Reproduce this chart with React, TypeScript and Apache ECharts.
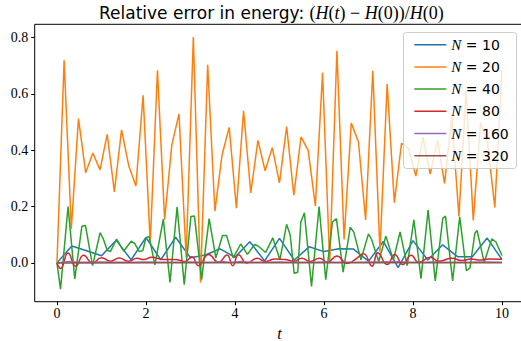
import React, { useEffect, useRef } from "react";
import * as echarts from "echarts";

// ---- data ----
const N_VALUES = [10, 20, 40, 80, 160, 320];
const COLORS = ["#1f77b4", "#ff7f0e", "#2ca02c", "#d62728", "#9467bd", "#8c564b"];

const X_TICKS = [0, 2, 4, 6, 8, 10];
const Y_TICKS = [0, 0.2, 0.4, 0.6, 0.8];

// N = 10 : sampled every 1/3
const N10_STEP = 1 / 3;
const N10_VALUES = [0, 0.06, 0.043, 0.025, 0.08, 0.011, 0.09, 0.011, 0.091, 0.018, 0.028, 0.05, 0.02, 0.075, 0.007, 0.087,
  0.01, 0.057, 0.04, 0.05, 0.049, 0.006, 0.076, -0.017, 0.079, 0.01, 0.064, 0.022, 0.022, 0.088, 0.012];

// N = 20 : sampled every 10/62
const N20_STEP = 10 / 62;
const N20_VALUES = [0, 0.719, 0.121, 0.512, 0.32, 0.39, 0.33, 0.456, 0.252, 0.472, 0.345, 0.273, 0.595, 0.07, 0.684,
  0.153, 0.418, 0.529, 0.02, 0.802, -0.07, 0.703, 0.184, 0.383, 0.481, 0.194, 0.54, 0.248, 0.435, 0.327, 0.409, 0.284,
  0.484, 0.24, 0.447, 0.399, 0.202, 0.675, 0.0, 0.753, 0.083, 0.496, 0.43, 0.152, 0.682, 0.04, 0.635, 0.214, 0.424,
  0.406, 0.308, 0.446, 0.315, 0.436, 0.282, 0.519, 0.165, 0.61, 0.151, 0.497, 0.424, 0.197, 0.684];

// N = 40 : vertices (t, value)
const N40_T = [0, 0.08, 0.25, 0.4, 0.56, 0.64, 0.8, 0.97, 1.04, 1.13, 1.2, 1.34, 1.5, 1.67, 1.75, 1.85, 1.93, 2.0, 2.07,
  2.2, 2.39, 2.54, 2.7, 2.86, 3.01, 3.09, 3.25, 3.42, 3.57, 3.72, 3.81, 3.96, 4.13, 4.28, 4.44, 4.52, 4.69, 4.85, 5.01,
  5.16, 5.24, 5.33, 5.41, 5.48, 5.56, 5.72, 5.89, 6.04, 6.19, 6.28, 6.43, 6.59, 6.67, 6.83, 7.0, 7.07, 7.23, 7.39, 7.56,
  7.71, 7.87, 8.02, 8.18, 8.34, 8.5, 8.67, 8.73, 8.89, 9.05, 9.2, 9.28, 9.39, 9.44, 9.6, 9.77, 9.86, 10.0];
const N40_VALUES = [0, -0.093, 0.2, -0.057, 0.13, 0.133, -0.01, 0.107, 0.086, 0.045, 0.04, 0.084, 0.042, 0.077, 0.068,
  0.04, 0.044, 0.089, 0.094, -0.007, 0.155, -0.069, 0.198, -0.077, 0.165, 0.166, -0.06, 0.157, 0.018, 0.097, 0.097,
  0.018, 0.067, 0.03, 0.065, 0.06, 0.037, 0.089, 0.011, 0.137, 0.1, -0.037, -0.033, 0.145, 0.178, -0.084, 0.2, -0.06,
  0.145, 0.157, -0.033, 0.127, 0.109, 0.011, 0.103, 0.083, 0.005, 0.095, 0.01, 0.11, -0.01, 0.153, -0.056, 0.187,
  -0.064, 0.158, 0.166, -0.064, 0.163, -0.028, -0.018, 0.105, 0.115, 0.002, 0.085, 0.075, 0.026];

// N = 80 : vertices (t, value)
const N80_T = [0, 0.08, 0.25, 0.42, 0.6, 0.8, 1.0, 1.2, 1.4, 1.6, 1.8, 1.95, 2.13, 2.4, 2.65, 2.88, 3.03, 3.18, 3.41,
  3.63, 3.82, 3.95, 4.08, 4.27, 4.5, 4.68, 4.9, 5.13, 5.32, 5.5, 5.69, 5.9, 6.08, 6.29, 6.52, 6.7, 6.89, 7.08, 7.21,
  7.42, 7.59, 7.77, 7.96, 8.13, 8.39, 8.58, 8.88, 9.1, 9.3, 9.5, 9.7, 10.0];
const N80_VALUES = [0, -0.02, 0.035, -0.012, 0.027, 0.0, 0.018, 0.006, 0.017, 0.006, 0.016, 0.012, 0.02, 0.012, 0.012,
  0.005, 0.022, -0.01, 0.03, 0.002, 0.028, -0.01, 0.029, 0.0, 0.016, 0.005, 0.014, 0.012, 0.006, 0.016, 0.005, 0.016,
  0.003, 0.024, -0.002, 0.012, 0.032, -0.012, 0.036, -0.006, 0.03, -0.006, 0.027, 0.002, 0.02, 0.006, 0.016, 0.008,
  0.014, 0.01, 0.014, 0.013];

// N = 160 : vertices (t, value)
const N160_T = [0, 0.15, 0.3, 0.5, 1.0, 1.5, 2.0, 2.5, 3.0, 3.5, 3.7, 3.9, 4.15, 4.4, 5.0, 5.5, 6.0, 6.5, 7.0, 7.6, 8.0,
  8.5, 9.0, 9.5, 10.0];
const N160_VALUES = [0, 0.002, 0.005, 0.002, 0.003, 0.002, 0.003, 0.002, 0.003, 0.002, 0.005, 0.002, 0.005, 0.002,
  0.003, 0.002, 0.003, 0.002, 0.003, 0.004, 0.002, 0.003, 0.002, 0.003, 0.002];

// N = 320 : vertices (t, value)
const N320_T = [0, 2.5, 5.0, 7.5, 10.0];
const N320_VALUES = [0, 0.0005, 0.0005, 0.0005, 0.0005];

const X_MIN = -0.5;
const X_MAX = 10.5;
const Y_MIN = -0.1378;
const Y_MAX = 0.8468;

const SERIF = "'Liberation Serif', 'DejaVu Serif', serif";
const SANS = "'DejaVu Sans', sans-serif";

function gridSeries(step: number, values: number[]) {
  return values.map((v, i) => [i * step, v]);
}
function pairSeries(ts: number[], values: number[]) {
  return ts.map((t, i) => [t, values[i]]);
}

export default function App() {
  const ref = useRef<HTMLDivElement>(null);
  useEffect(() => {
    if (!ref.current) return;
    const chart = echarts.init(ref.current, null, { renderer: "svg" });
    const datasets = [
      gridSeries(N10_STEP, N10_VALUES),
      gridSeries(N20_STEP, N20_VALUES),
      pairSeries(N40_T, N40_VALUES),
      pairSeries(N80_T, N80_VALUES),
      pairSeries(N160_T, N160_VALUES),
      pairSeries(N320_T, N320_VALUES),
    ];
    const smoothFlags = [false, false, false, 0.5, 0.5, false];
    chart.setOption({
      animation: false,
      backgroundColor: "#ffffff",
      title: {
        text:
          "Relative error in energy: {m|(}{i|H}{m|(}{i|t}{m|) − }{i|H}{m|(0))/}{i|H}{m|(0)}",
        left: 99,
        top: 4,
        padding: 0,
        textStyle: {
          fontFamily: SANS,
          fontSize: 17,
          fontWeight: "normal",
          color: "#000",
          rich: {
            m: { fontFamily: SERIF, fontSize: 18, color: "#000" },
            i: { fontFamily: SERIF, fontStyle: "italic", fontSize: 18, color: "#000" },
          },
        },
      },
      graphic: [
        {
          type: "rect",
          z: 50,
          silent: true,
          shape: { x: 403.5, y: 32.5, width: 113, height: 136, r: 3 },
          style: { fill: "rgba(255,255,255,0.8)", stroke: "#cccccc", lineWidth: 1 },
        },
      ],
      legend: {
        right: 4.3,
        top: 32.7,
        z: 60,
        orient: "vertical",
        icon: "path://M0 0H32V1.5H0Z",
        itemWidth: 32,
        itemHeight: 16,
        itemGap: 6.2,
        itemTextGap: 11.6,
        padding: [4, 8, 5, 6],
        data: N_VALUES.map((n) => `N = ${n}`),
        formatter: (name: string) => `{i|N}{r|${name.slice(1)}}`,
        textStyle: {
          fontSize: 14,
          lineHeight: 16,
          color: "#000",
          rich: {
            i: { fontFamily: SERIF, fontStyle: "italic", fontSize: 15, color: "#000", lineHeight: 16 },
            r: { fontFamily: SANS, fontSize: 14, color: "#000", lineHeight: 16 },
          },
        },
      },
      grid: {
        left: 34.7,
        top: 24.3,
        right: -3.25,
        bottom: 39.3,
        outerBoundsMode: "none",
        containLabel: false,
        show: true,
        borderColor: "#000",
        borderWidth: 1,
        backgroundColor: "transparent",
      },
      xAxis: {
        type: "value",
        min: X_MIN,
        max: X_MAX,
        name: "t",
        nameLocation: "middle",
        nameGap: 22,
        nameTextStyle: { fontFamily: SERIF, fontStyle: "italic", fontSize: 16, color: "#000" },
        axisLine: { show: false, onZero: false },
        splitLine: { show: false },
        axisTick: {
          show: true,
          length: 3.5,
          inside: false,
          customValues: X_TICKS,
          lineStyle: { color: "#000", width: 1 },
        },
        axisLabel: {
          customValues: X_TICKS,
          margin: 5,
          fontFamily: SERIF,
          fontSize: 14,
          color: "#000",
          formatter: (v: number) => String(v),
        },
      },
      yAxis: {
        type: "value",
        min: Y_MIN,
        max: Y_MAX,
        axisLine: { show: false, onZero: false },
        splitLine: { show: false },
        axisTick: {
          show: true,
          length: 3.5,
          inside: false,
          customValues: Y_TICKS,
          lineStyle: { color: "#000", width: 1 },
        },
        axisLabel: {
          customValues: Y_TICKS,
          margin: 6.5,
          fontFamily: SERIF,
          fontSize: 14,
          color: "#000",
          formatter: (v: number) => v.toFixed(1),
        },
      },
      series: N_VALUES.map((n, k) => ({
        name: `N = ${n}`,
        type: "line",
        z: 2,
        data: datasets[k],
        symbol: "none",
        smooth: smoothFlags[k],
        lineStyle: { color: COLORS[k], width: 1.5 },
        itemStyle: { color: COLORS[k] },
        clip: true,
      })),
    });
    return () => chart.dispose();
  }, []);
  return <div ref={ref} style={{ position: "absolute", left: 0, top: 0, width: 521, height: 341 }} />;
}
